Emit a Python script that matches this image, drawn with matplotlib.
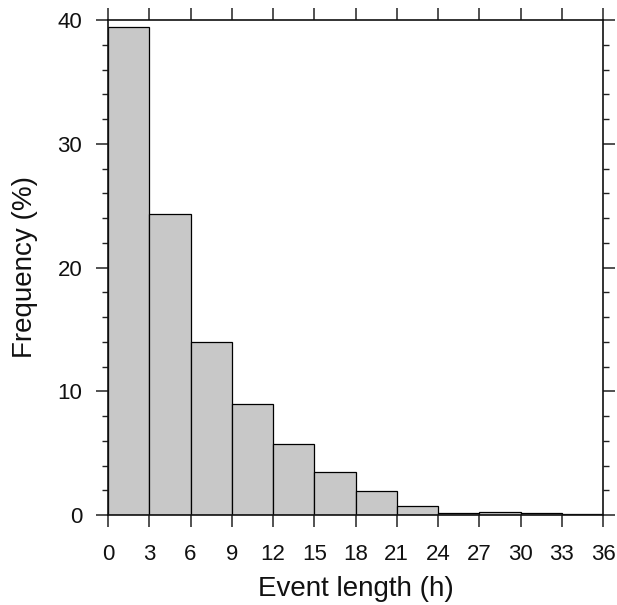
import matplotlib
matplotlib.use("Agg")
import matplotlib.pyplot as plt
from matplotlib.ticker import MultipleLocator

bin_edges = [0, 3, 6, 9, 12, 15, 18, 21, 24, 27, 30, 33, 36]
freq = [39.4, 24.3, 14.0, 9.0, 5.75, 3.5, 1.95, 0.7, 0.15, 0.27, 0.17, 0.1]
x_ticks = [0, 3, 6, 9, 12, 15, 18, 21, 24, 27, 30, 33, 36]
y_ticks = [0, 10, 20, 30, 40]

plt.rcParams['font.family'] = ['Liberation Sans', 'DejaVu Sans']

fig = plt.figure(figsize=(6.17, 6.05), dpi=100)
ax = fig.add_axes([108/617, 1-515/605, (603-108)/617, (515-20)/605])

widths = [bin_edges[i+1]-bin_edges[i] for i in range(len(freq))]
ax.bar(bin_edges[:-1], freq, width=widths, align='edge', color='#c8c8c8',
       edgecolor='black', linewidth=0.9)

ax.set_xlim(0, 36)
ax.set_ylim(0, 40)
ax.set_xticks(x_ticks)
ax.set_yticks(y_ticks)
ax.yaxis.set_minor_locator(MultipleLocator(2))
ax.tick_params(which='major', direction='out', length=8.6, width=1.1,
               labelsize=16, top=True, right=True, pad=10, colors='#222222',
               labelcolor='#111111')
ax.tick_params(axis='x', which='major', pad=12)
ax.tick_params(which='minor', direction='out', length=4.3, width=1.0,
               top=False, right=True, colors='#222222')
ax.tick_params(axis='x', which='minor', bottom=False, top=False)
for s in ax.spines.values():
    s.set_linewidth(1.2)
    s.set_color('#111111')
ax.set_xlabel('Event length (h)', fontsize=20, labelpad=8, color='#111111')
ax.set_ylabel('Frequency (%)', fontsize=20, labelpad=14, color='#111111')

fig.savefig('out.png', dpi=100)
